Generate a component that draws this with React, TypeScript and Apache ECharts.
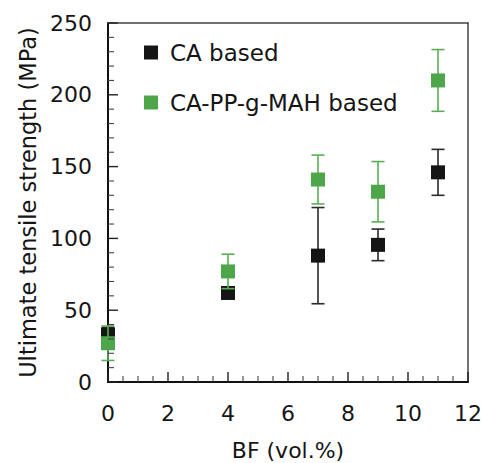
import React, { useEffect, useRef } from "react";
import * as echarts from "echarts";

const bfValues = [0, 4, 7, 9, 11];
const caMean = [33, 62, 88, 95.5, 146];
const caErr = [5, 3, 33.5, 11, 16];
const mahMean = [27, 77, 141, 132.5, 210];
const mahErr = [12, 12, 17, 21, 21.5];
const seriesNames = ["CA based", "CA-PP-g-MAH based"];
const xMajorTicks = [0, 2, 4, 6, 8, 10, 12];
const yMajorTicks = [0, 50, 100, 150, 200, 250];
const xMinorPerMajor = 4;
const yMinorPerMajor = 5;

const BLACK = "#151515";
const BLACK_BAR = "#2a2a2a";
const GREEN = "#4ea64b";
const GREEN_BAR = "#5aae56";
const FONT = "DejaVu Sans";
const TEXT = "#151515";

function errorSeries(means: number[], errs: number[], color: string, z: number) {
  const data = bfValues.map((x, i) => [x, means[i] - errs[i], means[i] + errs[i]]);
  return {
    type: "custom",
    silent: true,
    clip: false,
    data,
    encode: { x: 0, y: [1, 2] },
    renderItem: (params: any, api: any) => {
      const x = api.value(0);
      const lo = api.coord([x, api.value(1)]);
      const hi = api.coord([x, api.value(2)]);
      const cap = 6.5;
      const style = { stroke: color, lineWidth: 1.6, fill: "none" };
      return {
        type: "group",
        children: [
          { type: "line", shape: { x1: lo[0], y1: lo[1], x2: hi[0], y2: hi[1] }, style },
          { type: "line", shape: { x1: lo[0] - cap, y1: lo[1], x2: lo[0] + cap, y2: lo[1] }, style },
          { type: "line", shape: { x1: hi[0] - cap, y1: hi[1], x2: hi[0] + cap, y2: hi[1] }, style },
        ],
      };
    },
    z,
  };
}

function tickValues(majors: number[], per: number) {
  const out: { v: number; major: boolean }[] = [];
  majors.forEach((v, i) => {
    out.push({ v, major: true });
    if (i < majors.length - 1) {
      const step = (majors[i + 1] - v) / per;
      for (let k = 1; k < per; k++) out.push({ v: v + step * k, major: false });
    }
  });
  return out;
}

export default function App() {
  const ref = useRef<HTMLDivElement>(null);
  useEffect(() => {
    if (!ref.current) return;
    const chart = echarts.init(ref.current, undefined, { renderer: "svg" });
    const label = { color: TEXT, fontSize: 22, fontFamily: FONT };
    const borderAxis = {
      axisLine: { show: true, onZero: false, lineStyle: { color: "#444", width: 1.5 } },
      axisTick: { show: false },
      minorTick: { show: false },
      axisLabel: { show: false },
      splitLine: { show: false },
    };
    chart.setOption({
      animation: false,
      grid: { left: 108, right: 14, top: 23, bottom: 81, outerBoundsMode: "none", containLabel: false },
      legend: {
        orient: "vertical",
        left: 139,
        top: 36,
        itemWidth: 14,
        itemHeight: 14,
        itemGap: 27,
        data: seriesNames.map((n) => ({ name: n, icon: "rect" })),
        textStyle: { color: TEXT, fontSize: 23, fontFamily: FONT, padding: [0, 0, 0, 7] },
      },
      xAxis: [
        {
          type: "value",
          min: 0,
          max: 12,
          interval: 2,
          position: "bottom",
          name: "BF (vol.%)",
          nameLocation: "middle",
          nameGap: 57,
          nameTextStyle: { color: TEXT, fontSize: 22, fontFamily: FONT },
          axisLine: { show: true, onZero: false, lineStyle: { color: "#111", width: 2 } },
          axisTick: { show: false },
          minorTick: { show: false },
          splitLine: { show: false },
          axisLabel: { ...label, margin: 20 },
        },
        { type: "value", min: 0, max: 12, interval: 2, position: "top", ...borderAxis },
      ],
      yAxis: [
        {
          type: "value",
          min: 0,
          max: 250,
          interval: 50,
          position: "left",
          name: "Ultimate tensile strength (MPa)",
          nameLocation: "middle",
          nameGap: 62,
          nameTextStyle: { color: TEXT, fontSize: 22.5, fontFamily: FONT },
          axisLine: { show: true, onZero: false, lineStyle: { color: "#111", width: 2 } },
          axisTick: { show: false },
          minorTick: { show: false },
          splitLine: { show: false },
          axisLabel: { ...label, margin: 16 },
        },
        { type: "value", min: 0, max: 250, interval: 50, position: "right", ...borderAxis },
      ],
      series: [
        errorSeries(caMean, caErr, BLACK_BAR, 3),
        {
          name: seriesNames[0],
          type: "scatter",
          symbol: "rect",
          symbolSize: 14,
          clip: false,
          itemStyle: { color: BLACK, opacity: 1 },
          data: bfValues.map((x, i) => [x, caMean[i]]),
          z: 4,
        },
        errorSeries(mahMean, mahErr, GREEN_BAR, 5),
        {
          name: seriesNames[1],
          type: "scatter",
          symbol: "rect",
          symbolSize: 14,
          clip: false,
          itemStyle: { color: GREEN, opacity: 1 },
          data: bfValues.map((x, i) => [x, mahMean[i]]),
          z: 6,
        },
      ],
    });

    const finder = { xAxisIndex: 0, yAxisIndex: 0 };
    const graphics: any[] = [];
    tickValues(xMajorTicks, xMinorPerMajor).forEach((t) => {
      const p = chart.convertToPixel(finder as any, [t.v, 0]) as number[];
      const len = t.major ? 10 : 6;
      graphics.push({
        type: "line",
        silent: true,
        z: 20,
        shape: { x1: p[0], y1: p[1], x2: p[0], y2: p[1] - len },
        style: { stroke: t.major ? "#222" : "#444", lineWidth: t.major ? 1.4 : 1.1 },
      });
    });
    tickValues(yMajorTicks, yMinorPerMajor).forEach((t) => {
      const p = chart.convertToPixel(finder as any, [0, t.v]) as number[];
      const len = t.major ? 10 : 6;
      graphics.push({
        type: "line",
        silent: true,
        z: 20,
        shape: { x1: p[0], y1: p[1], x2: p[0] + len, y2: p[1] },
        style: { stroke: t.major ? "#222" : "#444", lineWidth: t.major ? 1.4 : 1.1 },
      });
    });
    chart.setOption({ graphic: graphics });
    return () => chart.dispose();
  }, []);
  return <div ref={ref} style={{ width: 482, height: 463, position: "absolute", left: 0, top: 0, background: "#fff" }} />;
}
